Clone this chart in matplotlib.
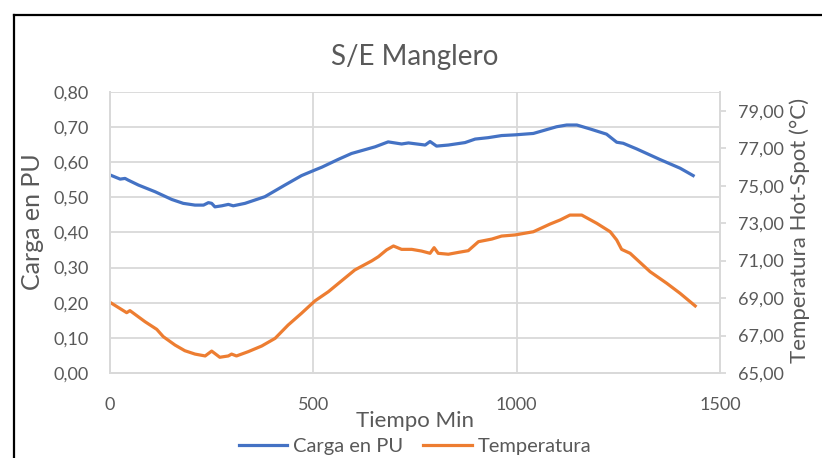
import numpy as np
import matplotlib.pyplot as plt
from matplotlib.lines import Line2D

plt.rcParams['font.family'] = ['Lato', 'DejaVu Sans']

# Carga en PU (eje izquierdo)
t_carga = [4, 25, 37, 45, 70, 111, 152, 180, 209, 230, 242, 250, 258, 275, 291, 303,
           332, 381, 430, 471, 504, 521, 561, 594, 652, 684, 717, 734, 775, 787, 803,
           832, 873, 898, 930, 963, 996, 1041, 1098, 1123, 1148, 1180, 1221, 1246,
           1262, 1295, 1352, 1402, 1434]
carga = [0.562, 0.552, 0.554, 0.549, 0.535, 0.516, 0.494, 0.483, 0.478, 0.478, 0.485,
         0.483, 0.473, 0.476, 0.480, 0.476, 0.483, 0.502, 0.535, 0.562, 0.578, 0.586,
         0.608, 0.625, 0.644, 0.658, 0.652, 0.655, 0.649, 0.659, 0.646, 0.649, 0.656,
         0.666, 0.670, 0.676, 0.678, 0.682, 0.701, 0.706, 0.706, 0.695, 0.680, 0.657,
         0.654, 0.638, 0.608, 0.583, 0.562]

# Temperatura Hot-Spot (eje derecho)
t_temp = [4, 41, 49, 86, 115, 131, 160, 184, 209, 234, 250, 270, 291, 299, 311, 340,
          373, 406, 438, 471, 504, 537, 570, 602, 644, 660, 680, 697, 717, 742, 766,
          787, 797, 807, 832, 857, 881, 906, 939, 963, 996, 1041, 1082, 1107, 1131,
          1160, 1197, 1230, 1246, 1258, 1279, 1328, 1369, 1402, 1439]
temp = [68.72, 68.22, 68.33, 67.74, 67.33, 66.94, 66.49, 66.19, 66.01, 65.91, 66.17,
        65.84, 65.91, 66.01, 65.91, 66.14, 66.44, 66.85, 67.56, 68.19, 68.85, 69.34,
        69.93, 70.50, 70.99, 71.21, 71.57, 71.78, 71.60, 71.60, 71.51, 71.39, 71.69,
        71.39, 71.34, 71.44, 71.53, 72.01, 72.15, 72.31, 72.37, 72.54, 72.95, 73.17,
        73.43, 73.43, 72.99, 72.54, 72.10, 71.60, 71.39, 70.41, 69.79, 69.25, 68.58]

gris = '#595959'
rejilla = '#d9d9d9'

fig = plt.figure(figsize=(8.22, 4.58), dpi=100)
ax = fig.add_axes([110/822, 1-373/458, 610/822, 281/458])
ax2 = ax.twinx()

l1, = ax.plot(t_carga, carga, color='#4472C4', lw=2.3, label='Carga en PU')
l2, = ax2.plot(t_temp, temp, color='#ED7D31', lw=2.3, label='Temperatura')

ax.set_xlim(0, 1500)
ax.set_ylim(0, 0.8)
ax2.set_ylim(65, 80)
ax.set_xticks([0, 500, 1000, 1500])
ax.set_yticks(np.arange(0, 0.81, 0.1))
ax2.set_yticks(np.arange(65, 80, 2))
ax.set_yticklabels([f'{v:.2f}'.replace('.', ',') for v in np.arange(0, 0.81, 0.1)])
ax2.set_yticklabels([f'{v:.2f}'.replace('.', ',') for v in np.arange(65, 80, 2)])

ax.grid(True, color=rejilla, lw=1.3)
ax.set_axisbelow(True)
for a in (ax, ax2):
    for s in a.spines.values():
        s.set_color(rejilla)
        s.set_linewidth(1.3)
ax.spines['top'].set_visible(False)
ax2.spines['top'].set_visible(False)

ax.tick_params(axis='both', length=0, labelsize=13, labelcolor=gris)
ax.tick_params(axis='x', pad=17)
ax.tick_params(axis='y', pad=15)
ax2.tick_params(axis='y', length=4, width=1.3, color=rejilla, labelsize=13,
                labelcolor=gris, pad=9)

ax.set_xlabel('Tiempo Min', fontsize=16, color=gris)
ax.set_ylabel('Carga en PU', fontsize=18, color=gris)
ax2.set_ylabel('Temperatura Hot-Spot (°C)', fontsize=16, color=gris)
ax.xaxis.set_label_coords(0.5, (373-421)/281)
ax.yaxis.set_label_coords((32-110)/610, (373-222)/281)
ax2.yaxis.set_label_coords((800-110)/610, (373-230)/281)
for lab in (ax.xaxis.label, ax.yaxis.label, ax2.yaxis.label):
    lab.set_va('center')
    lab.set_ha('center')

fig.text(415/822, 1-57/458, 'S/E Manglero', fontsize=20, color=gris,
         ha='center', va='center')

fig.legend([l1, l2], ['Carga en PU', 'Temperatura'], loc='center',
           bbox_to_anchor=(415/822, 1-446/458), ncol=2, frameon=False,
           fontsize=14.5, labelcolor=gris, handlelength=2.4, columnspacing=1.0,
           handletextpad=0.3, borderpad=0.1)

# borde negro del recuadro
fig.add_artist(Line2D([14/822, 14/822], [0, 1-15/458], color='black', lw=1.6,
                      transform=fig.transFigure))
fig.add_artist(Line2D([14/822, 1], [1-15/458, 1-15/458], color='black', lw=1.6,
                      transform=fig.transFigure))

fig.savefig('out.png', dpi=100)
